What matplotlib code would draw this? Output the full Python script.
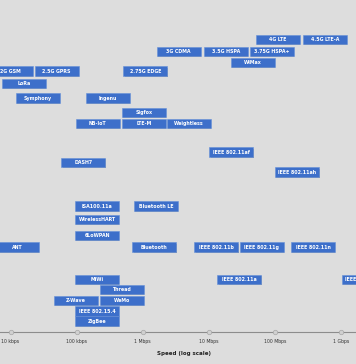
import matplotlib
matplotlib.use("Agg")
import matplotlib.pyplot as plt
from matplotlib.patches import Rectangle
import numpy as np

# Technologies: name, typical speed (bps) used for horizontal placement, lane (vertical level)
names = ["4G LTE", "4.5G LTE-A", "3G CDMA", "3.5G HSPA", "3.75G HSPA+", "WiMax",
         "2G GSM", "2.5G GPRS", "2.75G EDGE", "LoRa", "Symphony", "Ingenu",
         "Sigfox", "NB-IoT", "LTE-M", "Weightless", "IEEE 802.11af", "DASH7",
         "IEEE 802.11ah", "ISA100.11a", "Bluetooth LE", "WirelessHART", "6LoWPAN",
         "ANT", "Bluetooth", "IEEE 802.11b", "IEEE 802.11g", "IEEE 802.11n",
         "MiWi", "IEEE 802.11a", "IEEE 802.11ac", "Thread", "Z-Wave", "WeMo",
         "IEEE 802.15.4", "ZigBee"]
speeds = [112e6, 575e6, 3.5e6, 18e6, 90e6, 47e6,
          10e3, 50e3, 1.1e6, 16e3, 26e3, 295e3,
          1.05e6, 208e3, 1.05e6, 5e6, 22e6, 127e3,
          218e6, 205e3, 1.6e6, 205e3, 205e3,
          12.5e3, 1.5e6, 13e6, 63e6, 380e6,
          205e3, 29e6, 2.2e9, 480e3, 98e3, 480e3,
          205e3, 205e3]
lanes = [39.5, 39.5, 51.5, 51.5, 51.5, 62.5,
         71, 71, 71, 83.5, 98, 98,
         112.5, 123.5, 123.5, 123.5, 152, 162.5,
         172, 206, 206, 219.5, 235.5,
         247, 247, 247, 247, 247,
         279.5, 279.5, 279.5, 289.5, 300.5, 300.5,
         311, 321]

tick_values = [1e4, 1e5, 1e6, 1e7, 1e8, 1e9]
tick_labels = ["10 kbps", "100 kbps", "1 Mbps", "10 Mbps", "100 Mbps", "1 Gbps"]

BG = "#dddddd"
BOX = "#3d6fca"

fig = plt.figure(figsize=(3.56, 3.64), dpi=100, facecolor=BG)
ax = fig.add_axes([0, 0, 1, 1])
ax.set_facecolor(BG)
ax.set_xscale("log")
x0 = 4 - 10.5 / 66.1
x1 = 4 + (356 - 10.5) / 66.1
ax.set_xlim(10 ** x0, 10 ** x1)
ax.set_ylim(364, 0)
ax.axis("off")

hw = 22 / 66.1   # half box width in decades
hh = 4.6         # half box height in lane units
for n, s, l in zip(names, speeds, lanes):
    left = s / 10 ** hw
    right = s * 10 ** hw
    # shadow
    ax.add_patch(Rectangle((left * 10 ** (1.2 / 66.1), l - hh + 1.3), right - left, 2 * hh,
                           facecolor="#8a8a8a", edgecolor="none", alpha=0.7, zorder=2))
    ax.add_patch(Rectangle((left, l - hh), right - left, 2 * hh,
                           facecolor=BOX, edgecolor="#6690d8", linewidth=0.4, zorder=3))
    ax.text(s, l + 0.2, n, color="white", fontsize=3.4, fontweight="bold",
            ha="center", va="center", zorder=4, clip_on=True)

axis_y = 332
ax.axhline(axis_y, color="#8c8c8c", linewidth=0.8, zorder=1)
ax.plot(tick_values, [axis_y] * len(tick_values), "o", markersize=3.2,
        markerfacecolor="#d0d0d0", markeredgecolor="#a8a8a8", markeredgewidth=0.5, zorder=2)
for v, t in zip(tick_values, tick_labels):
    ax.text(v, 342, t, fontsize=3.3, color="#333333", ha="center", va="center")
ax.text(0.518, (364 - 353) / 364, "Speed (log scale)", transform=ax.transAxes,
        fontsize=4.0, fontweight="bold", color="#222222", ha="center", va="center")

fig.savefig("out.png", dpi=100, facecolor=BG)
